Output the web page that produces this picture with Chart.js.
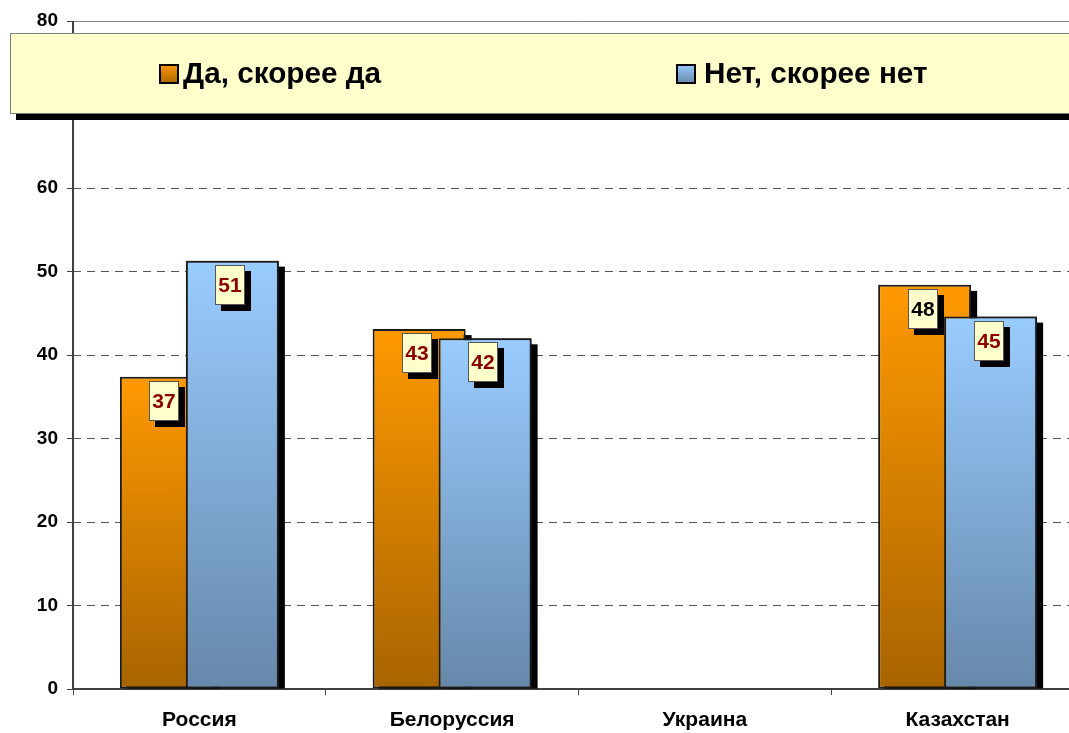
<!DOCTYPE html>
<html><head><meta charset="utf-8">
<script src="https://cdn.jsdelivr.net/npm/chart.js@4.4.1/dist/chart.umd.min.js"></script>
<style>html,body{margin:0;padding:0;overflow:hidden;background:#fff;width:1069px;height:733px}canvas{display:block}</style>
</head><body><canvas id="c" width="1084" height="733"></canvas>
<script>
const categories = ['Россия', 'Белоруссия', 'Украина', 'Казахстан'];
const seriesNames = ['Да, скорее да', 'Нет, скорее нет'];
const yesValues = [37.4, 43.1, null, 48.4];
const noValues = [51.3, 42.0, null, 44.6];
const yMin = 0, yMax = 80, yStep = 10;

const FONT = "'Liberation Sans', Arial, sans-serif";
const palette = [
  {top: '#FF9900', bottom: '#A86400', label: ['#8B0000', '#8B0000', '#8B0000', '#000000']},
  {top: '#99CCFF', bottom: '#6688AA', label: ['#8B0000', '#8B0000', '#8B0000', '#8B0000']}
];

function barGradient(p) {
  return (ctx) => {
    const chart = ctx.chart, ys = chart.scales && chart.scales.y;
    if (!ys || ctx.raw == null) return p.top;
    const y0 = ys.getPixelForValue(ctx.raw), y1 = ys.getPixelForValue(0);
    if (!isFinite(y0) || !isFinite(y1) || y0 === y1) return p.top;
    const g = chart.ctx.createLinearGradient(0, y0, 0, y1);
    g.addColorStop(0, p.top); g.addColorStop(1, p.bottom);
    return g;
  };
}

const framePlugin = {
  id: 'frame',
  beforeDatasetsDraw(chart) {
    const {ctx, chartArea: a} = chart;
    ctx.save();
    ctx.strokeStyle = '#808080'; ctx.lineWidth = 1;
    ctx.beginPath(); ctx.moveTo(a.left, a.top + 0.5); ctx.lineTo(a.right, a.top + 0.5); ctx.stroke();
    ctx.strokeStyle = '#404040'; ctx.lineWidth = 2;
    ctx.beginPath(); ctx.moveTo(a.left, a.top); ctx.lineTo(a.left, a.bottom); ctx.stroke();
    ctx.restore();
  }
};

function drawShadows(chart, index) {
  const ctx = chart.ctx;
  ctx.save();
  ctx.fillStyle = '#000';
  chart.getDatasetMeta(index).data.forEach((el, i) => {
    const v = chart.data.datasets[index].data[i];
    if (v == null) return;
    const w = el.width;
    ctx.fillRect(el.x - w / 2 + 6, el.y + 6, w, el.base - el.y - 6);
  });
  ctx.restore();
}

// Chart.js paints dataset 0 last; the reference has the second series in front,
// so after the first series is painted the second one is painted again on top.
const shadowPlugin = {
  id: 'barShadow',
  beforeDatasetDraw(chart, args) { drawShadows(chart, args.index); },
  afterDatasetDraw(chart, args) {
    if (args.index !== 0) return;
    const meta = chart.getDatasetMeta(1);
    const ds = chart.data.datasets[1];
    meta.data.forEach((el, i) => { if (ds.data[i] != null) el.draw(chart.ctx, chart.chartArea); });
  }
};

const labelPlugin = {
  id: 'valueBoxes',
  afterDatasetsDraw(chart) {
    const ctx = chart.ctx;
    ctx.save();
    chart.data.datasets.forEach((ds, di) => {
      chart.getDatasetMeta(di).data.forEach((el, i) => {
        const v = ds.data[i];
        if (v == null) return;
        const bw = 30, bh = 40;
        const cx = el.x - 2, top = Math.round(el.y + 4);
        const left = Math.round(cx - bw / 2);
        ctx.fillStyle = '#000';
        ctx.fillRect(left + 6, top + 6, bw, bh);
        ctx.fillStyle = '#FFFFCC';
        ctx.fillRect(left, top, bw, bh);
        ctx.strokeStyle = '#555';
        ctx.lineWidth = 1;
        ctx.strokeRect(left + 0.5, top + 0.5, bw - 1, bh - 1);
        ctx.fillStyle = palette[di].label[i];
        ctx.font = 'bold 21px ' + FONT;
        ctx.textAlign = 'center'; ctx.textBaseline = 'middle';
        ctx.fillText(String(Math.round(v)), left + bw / 2, top + bh / 2 + 1);
      });
    });
    ctx.restore();
  }
};

const legendPlugin = {
  id: 'boxLegend',
  afterDraw(chart) {
    const ctx = chart.ctx;
    ctx.save();
    const bx = 10, by = 33, bw = 1200, bh = 81;
    ctx.fillStyle = '#000';
    ctx.fillRect(bx + 6, by + 6, bw, bh);
    ctx.fillStyle = '#FFFFCC';
    ctx.fillRect(bx, by, bw, bh);
    ctx.strokeStyle = '#808080'; ctx.lineWidth = 1;
    ctx.strokeRect(bx + 0.5, by + 0.5, bw, bh - 1);
    const items = [{sx: 159, tx: 183}, {sx: 676, tx: 704}];
    chart.data.datasets.forEach((ds, di) => {
      const it = items[di];
      const sy = 64, s = 20;
      const g = ctx.createLinearGradient(0, sy, 0, sy + s);
      g.addColorStop(0, palette[di].top); g.addColorStop(1, palette[di].bottom);
      ctx.fillStyle = g;
      ctx.fillRect(it.sx, sy, s, s);
      ctx.strokeStyle = '#000'; ctx.lineWidth = 2;
      ctx.strokeRect(it.sx + 1, sy + 1, s - 2, s - 2);
      ctx.fillStyle = '#000';
      ctx.font = 'bold 29.7px ' + FONT;
      ctx.textAlign = 'left'; ctx.textBaseline = 'middle';
      ctx.fillText(ds.label, it.tx, 75);
    });
    ctx.restore();
  }
};

new Chart(document.getElementById('c'), {
  type: 'bar',
  data: {
    labels: categories,
    datasets: [
      {label: seriesNames[0], data: yesValues, backgroundColor: barGradient(palette[0]),
       borderColor: '#1a1a1a', borderWidth: 2, borderSkipped: false},
      {label: seriesNames[1], data: noValues, backgroundColor: barGradient(palette[1]),
       borderColor: '#1a1a1a', borderWidth: 2, borderSkipped: false}
    ]
  },
  options: {
    responsive: false,
    animation: false,
    devicePixelRatio: 1,
    datasets: {bar: {categoryPercentage: 0.522, barPercentage: 1.41}},
    layout: {padding: {top: 21, left: 0, right: 0, bottom: 0}},
    plugins: {legend: {display: false}, tooltip: {enabled: false}},
    scales: {
      x: {
        afterFit(s) { s.height = 44; },
        grid: {offset: true, drawOnChartArea: false, drawTicks: true, tickLength: 6, tickColor: '#404040', tickWidth: 1},
        border: {display: true, color: '#404040', width: 2},
        ticks: {font: {family: FONT, size: 21, weight: 'bold'}, color: '#000', padding: 13, autoSkip: false, maxRotation: 0}
      },
      y: {
        min: yMin, max: yMax,
        afterFit(s) { s.width = 73; },
        grid: {
          color: (c) => (c.tick && (c.tick.value === yMin || c.tick.value === yMax)) ? 'rgba(0,0,0,0)' : '#555',
          lineWidth: 1, tickLength: 6, tickColor: '#404040', tickWidth: 1, tickBorderDash: []
        },
        border: {display: false, dash: [8, 6]},
        ticks: {stepSize: yStep, font: {family: FONT, size: 19, weight: 'bold'}, color: '#000', padding: 9}
      }
    }
  },
  plugins: [framePlugin, shadowPlugin, labelPlugin, legendPlugin]
});
</script>
</body></html>
